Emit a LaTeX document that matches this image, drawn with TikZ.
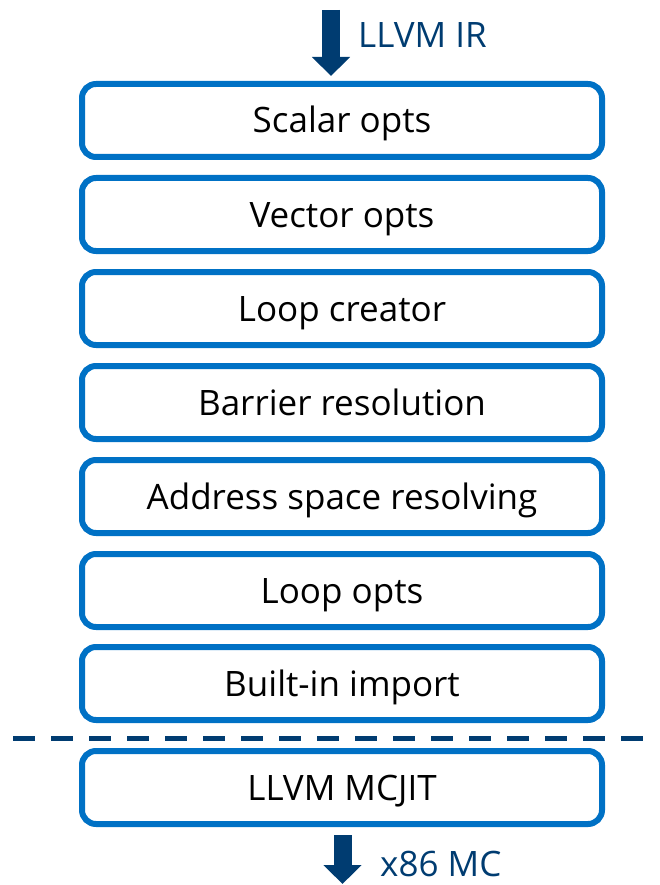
\documentclass[tikz,border=0pt]{standalone}
\usepackage{fontspec}
\setmainfont{Open Sans}
\usetikzlibrary{arrows.meta}
\definecolor{boxblue}{HTML}{0071C5}
\definecolor{darkblue}{HTML}{003C71}
\begin{document}
\begin{tikzpicture}[x=1pt,y=-1pt,
  stage/.style={draw=boxblue, line width=6pt, rounded corners=14pt,
    minimum width=520pt, minimum height=73pt, inner sep=0pt,
    text height=29pt, text depth=4pt,
    font=\fontsize{35}{42}\selectfont, text=black},
  flow/.style={darkblue, line width=18pt,
    -{Triangle[width=37pt,length=19pt]}},
  lbl/.style={anchor=west, text=darkblue, inner sep=0pt,
    font=\fontsize{35}{42}\selectfont}]
\useasboundingbox (0,0) rectangle (659,885);
\node[stage] (b1) at (342,120.5) {Scalar opts};
\node[stage] (b2) at (342,214.5) {Vector opts};
\node[stage] (b3) at (342,308.5) {Loop creator};
\node[stage] (b4) at (342,402.5) {Barrier resolution};
\node[stage] (b5) at (342,496.5) {Address space resolving};
\node[stage] (b6) at (342,590.5) {Loop opts};
\node[stage] (b7) at (342,683.5) {Built-in import};
\node[stage] (b8) at (342,787.5) {LLVM MCJIT};
% input arrow
\coordinate (in) at (331,10);
\draw[flow, shorten >=5pt] (in) -- (b1.north -| in);
\node[lbl] (ir) at (358,35) {LLVM IR};
% output arrow
\coordinate (out) at (342.5,884);
\draw[flow, shorten <=8pt] (b8.south -| out) -- (out);
\node[lbl] (mc) at (380,864) {x86 MC};
% separator
\coordinate (sl) at (13,738);
\coordinate (sr) at (645,738);
\draw[darkblue, line width=5pt, dash pattern=on 22pt off 16pt] (sl) -- (sr);
\end{tikzpicture}
\end{document}
